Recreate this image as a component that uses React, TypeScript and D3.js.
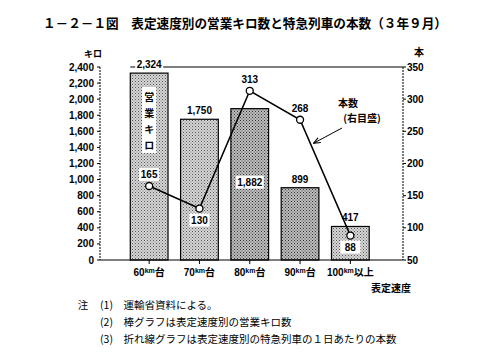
import React from 'react';
import * as d3 from 'd3';

// categories (表定速度)
const speeds = ['60', '70', '80', '90', '100'];
const speedSuffix = ['台', '台', '台', '台', '以上'];
// 営業キロ (bars, left axis)
const kilo = [2324, 1750, 1882, 899, 417];
// 特急列車本数 (line, right axis)
const trains = [165, 130, 313, 268, 88];
const leftTicks = [0, 200, 400, 600, 800, 1000, 1200, 1400, 1600, 1800, 2000, 2200, 2400];
const rightTicks = [50, 100, 150, 200, 250, 300, 350];
const notes = [
  '(1)　運輸省資料による。',
  '(2)　棒グラフは表定速度別の営業キロ数',
  '(3)　折れ線グラフは表定速度別の特急列車の１日あたりの本数',
];

const W = 488;
const H = 354;
const font = '"Liberation Sans", Arial, sans-serif';
const jp = '"Noto Sans CJK JP", sans-serif';

const App = () => {
  const x = d3.scaleBand().domain(speeds).range([124, 375.5]).paddingInner(0.25).paddingOuter(0.125);
  const yL = d3.scaleLinear().domain([0, 2400]).range([260, 67]);
  const yR = d3.scaleLinear().domain([50, 350]).range([260, 67]);
  const cx = (i: number) => (x(speeds[i]) as number) + x.bandwidth() / 2;
  const line = d3.line<number>().x((d, i) => cx(i)).y(d => yR(d));
  const left = 100, right = 403;

  // where to place each bar value / line value label
  const barLabelInside = [false, false, true, false, false];
  const lineLabelBelow = [false, true, false, false, true];

  return (
    <svg width={W} height={H} style={{ position: 'absolute', left: 0, top: 0, background: '#fff' }}>
      <defs>
        <pattern id="dotL" width="3" height="3" patternUnits="userSpaceOnUse">
          <rect width="3" height="3" fill="#d6d6d6" />
          <rect x="0" y="0" width="1" height="1" fill="#555" />
          <rect x="1.5" y="1.5" width="1" height="1" fill="#777" />
        </pattern>
        <pattern id="dotD" width="3" height="3" patternUnits="userSpaceOnUse">
          <rect width="3" height="3" fill="#bdbdbd" />
          <rect x="0" y="0" width="1" height="1" fill="#333" />
          <rect x="1.5" y="1.5" width="1" height="1" fill="#444" />
        </pattern>
        <marker id="arr" viewBox="0 0 10 10" refX="9" refY="5" markerWidth="7" markerHeight="7" orient="auto">
          <path d="M0,1 L10,5 L0,9" fill="none" stroke="#000" strokeWidth="1.5" />
        </marker>
      </defs>

      {/* title */}
      <text x={245} y={28} textAnchor="middle" fontFamily={jp} fontSize={13} fontWeight={700} textLength={404} lengthAdjust="spacingAndGlyphs">
        １－２－１図　表定速度別の営業キロ数と特急列車の本数（３年９月）
      </text>

      {/* unit labels */}
      <text x={93} y={57} textAnchor="middle" fontFamily={jp} fontSize={9} fontWeight={700}>キロ</text>
      <text x={419} y={56} textAnchor="middle" fontFamily={jp} fontSize={10} fontWeight={700}>本</text>

      {/* bars */}
      {kilo.map((v, i) => (
        <rect key={speeds[i]} x={x(speeds[i])} y={yL(v)} width={x.bandwidth()} height={yL(0) - yL(v)}
          fill={i === 2 || i === 3 ? 'url(#dotD)' : 'url(#dotL)'} stroke="#000" strokeWidth={1.2} />
      ))}

      {/* frame: top line, axes */}
      <line x1={x(speeds[0]) as number} x2={right} y1={67} y2={67} stroke="#000" strokeWidth={1.2} />
      <line x1={left} x2={left} y1={67} y2={260} stroke="#000" strokeWidth={1} strokeDasharray="2,1" />
      <line x1={right} x2={right} y1={67} y2={260} stroke="#000" strokeWidth={1} strokeDasharray="2,1" />
      <line x1={left} x2={right} y1={260} y2={260} stroke="#000" strokeWidth={1.2} />

      {leftTicks.map(t => (
        <g key={'l' + t}>
          <line x1={left - 3} x2={left} y1={yL(t)} y2={yL(t)} stroke="#000" />
          <text x={left - 6} y={yL(t) + 3.5} textAnchor="end" fontFamily={font} fontSize={10} fontWeight={700}>
            {d3.format(',')(t)}
          </text>
        </g>
      ))}
      {rightTicks.map(t => (
        <g key={'r' + t}>
          <line x1={right} x2={right + 3} y1={yR(t)} y2={yR(t)} stroke="#000" />
          <text x={right + 4} y={yR(t) + 3.5} textAnchor="start" fontFamily={font} fontSize={10} fontWeight={700}>
            {t}
          </text>
        </g>
      ))}

      {/* x ticks + labels */}
      {speeds.map((s, i) => (
        <g key={'x' + s}>
          <line x1={cx(i)} x2={cx(i)} y1={260} y2={264} stroke="#000" />
          <text x={cx(i)} y={276} textAnchor="middle" fontFamily={jp} fontSize={10} fontWeight={700}>
            <tspan fontFamily={font}>{s}</tspan>
            <tspan fontFamily={font} fontSize={7} dy={-3}>km</tspan>
            <tspan dy={3}>{speedSuffix[i]}</tspan>
          </text>
        </g>
      ))}
      <text x={411} y={292} textAnchor="end" fontFamily={jp} fontSize={10} fontWeight={700}>表定速度</text>

      {/* bar value labels */}
      {kilo.map((v, i) => {
        const inside = barLabelInside[i];
        const ty = inside ? yL(v) + 77 : yL(v) - 5;
        return (
          <g key={'bl' + i}>
            {(inside || i === 0) && (
              <rect x={cx(i) - 14} y={ty - 10} width={28} height={13} fill="#fff" />
            )}
            <text x={cx(i)} y={ty} textAnchor="middle" fontFamily={font} fontSize={10} fontWeight={700}>
              {d3.format(',')(v)}
            </text>
          </g>
        );
      })}

      {/* 営業キロ vertical label */}
      <rect x={cx(0) - 7} y={87} width={14} height={66} fill="#fff" />
      {['営', '業', 'キ', 'ロ'].map((c, k) => (
        <text key={c} x={cx(0)} y={101 + k * 16} textAnchor="middle" fontFamily={jp} fontSize={10} fontWeight={700}>{c}</text>
      ))}

      {/* line */}
      <path d={line(trains) || ''} fill="none" stroke="#000" strokeWidth={1.6} />
      {trains.map((v, i) => {
        const below = lineLabelBelow[i];
        const ty = below ? yR(v) + 15 : yR(v) - 8;
        const boxed = i === 0 || i === 1 || i === 4;
        return (
          <g key={'p' + i}>
            <circle cx={cx(i)} cy={yR(v)} r={3.5} fill="#fff" stroke="#000" strokeWidth={1.3} />
            {boxed && <rect x={cx(i) - 10} y={ty - 10} width={20} height={13} fill="#fff" />}
            <text x={cx(i)} y={ty} textAnchor="middle" fontFamily={font} fontSize={10} fontWeight={700}>{v}</text>
          </g>
        );
      })}

      {/* annotation */}
      <text x={348} y={107} textAnchor="middle" fontFamily={jp} fontSize={10} fontWeight={700}>本数</text>
      <text x={362} y={122} textAnchor="middle" fontFamily={jp} fontSize={10} fontWeight={700}>(右目盛)</text>
      <line x1={342} y1={128} x2={314} y2={143} stroke="#000" strokeWidth={1} markerEnd="url(#arr)" />

      {/* notes */}
      <text x={83} y={309} textAnchor="middle" fontFamily={jp} fontSize={10.5}>注</text>
      {notes.map((n, i) => (
        <text key={i} x={100} y={309 + i * 17} fontFamily={jp} fontSize={10.5}>{n}</text>
      ))}
    </svg>
  );
};

export default App;
